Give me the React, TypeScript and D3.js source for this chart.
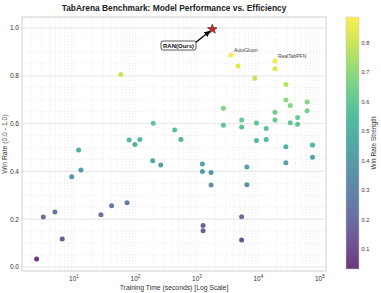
import React from "react";
import * as d3 from "d3";

// training time (s) and win rate of the baselines
const times = [
  2.47, 3.17, 4.9, 6.45, 9.2, 11.9, 13, 27.5, 41, 58, 73, 79, 98, 118, 191, 195, 258, 435, 550,
  1230, 1230, 1260, 1260, 1700, 1700, 2700, 2700, 3570, 4660, 5340, 5340, 5340, 5340, 6500, 6500,
  8700, 9300, 9300, 13400, 13400, 18600, 18600, 18600, 18600, 28000, 28000, 28000, 28000,
  33000, 33000, 43500, 43500, 62000, 62000, 76000, 76000,
];
const winRates = [
  0.033, 0.209, 0.23, 0.117, 0.378, 0.49, 0.406, 0.219, 0.256, 0.805, 0.269, 0.531, 0.513, 0.534, 0.445, 0.601, 0.427, 0.573, 0.534,
  0.431, 0.4, 0.174, 0.152, 0.395, 0.343, 0.664, 0.593, 0.887, 0.841, 0.615, 0.586, 0.21, 0.113, 0.418, 0.344,
  0.79, 0.602, 0.529, 0.58, 0.533, 0.862, 0.83, 0.647, 0.615, 0.764, 0.699, 0.503, 0.436,
  0.676, 0.604, 0.626, 0.597, 0.69, 0.654, 0.51, 0.459,
];
const labelled = [
  {name: "AutoGluon", t: 3570, v: 0.887},
  {name: "RealTabPFN", t: 18600, v: 0.862},
];
const ours = {name: "RAN(Ours)", t: 1780, v: 0.995};

const yTicks = [0, 0.2, 0.4, 0.6, 0.8, 1.0];
const xTicks = [1, 2, 3, 4, 5];
const cbTicks = [0.1, 0.2, 0.3, 0.4, 0.5, 0.6, 0.7, 0.8];

const W = 381, H = 293;
const L = 22, R = 326, T = 17, B = 271;
const font = "'Liberation Sans', Arial, sans-serif";

export default function App() {
  const x = d3.scaleLog().domain([Math.pow(10, 0.155), Math.pow(10, 5.1)]).range([L, R]);
  const y = d3.scaleLinear().domain([-0.0167, 1.046]).range([B, T]);
  const cMin = d3.min(winRates)!, cMax = d3.max(winRates)!;
  const color = d3.scaleSequential(d3.interpolateViridis).domain([cMin, cMax]);
  const cy = d3.scaleLinear().domain([cMin, cMax]).range([269, 17]);

  const minor: number[] = [];
  for (let e = 0; e <= 5; e++) {
    for (let k = 1; k < 10; k++) {
      const v = k * Math.pow(10, e);
      if (v >= x.domain()[0] && v <= x.domain()[1]) minor.push(v);
    }
  }
  const yMinor = d3.range(0, 1.05, 0.05);

  const star = d3.symbol().type(d3.symbolStar).size(28)()!;
  const gradStops = d3.range(0, 1.001, 0.1);

  const sx = x(ours.t), sy = y(ours.v);

  return (
    <svg width={W} height={H} style={{position: "absolute", left: 0, top: 0}} fontFamily={font}>
      <defs>
        <linearGradient id="cb" x1="0" y1="1" x2="0" y2="0">
          {gradStops.map(s => (
            <stop key={s} offset={s} stopColor={d3.interpolateViridis(s)} />
          ))}
        </linearGradient>
        <marker id="ah" viewBox="0 0 10 10" refX="9" refY="5" markerWidth="5" markerHeight="5" orient="auto">
          <path d="M0,0 L10,5 L0,10 z" fill="#000" />
        </marker>
      </defs>
      <rect width={W} height={H} fill="#fff" />
      <text x={174} y={11} textAnchor="middle" fontSize={8.4} fontWeight="bold" fill="#222">
        TabArena Benchmark: Model Performance vs. Efficiency
      </text>

      {/* grid */}
      <g stroke="#e6e6e6" strokeWidth={0.6} strokeDasharray="1.5,1.5">
        {minor.map((v, i) => (
          <line key={i} x1={x(v)} x2={x(v)} y1={T} y2={B} />
        ))}
        {yMinor.map((v, i) => (
          <line key={"y" + i} x1={L} x2={R} y1={y(v)} y2={y(v)} />
        ))}
      </g>
      <g stroke="#e3e3e3" strokeWidth={0.8}>
        {yTicks.map(v => (
          <line key={v} x1={L} x2={R} y1={y(v)} y2={y(v)} />
        ))}
      </g>
      <rect x={L} y={T} width={R - L} height={B - T} fill="none" stroke="#d0d0d0" strokeWidth={1} />

      {/* axes */}
      <g fontSize={6.5} fill="#333">
        {yTicks.map(v => (
          <text key={v} x={L - 3} y={y(v) + 2.3} textAnchor="end">{v.toFixed(1)}</text>
        ))}
        {xTicks.map(e => (
          <text key={e} x={x(Math.pow(10, e))} y={281} textAnchor="middle">
            10<tspan fontSize={4.5} dy={-3}>{e}</tspan>
          </text>
        ))}
      </g>
      <text x={174} y={290} textAnchor="middle" fontSize={6.8} fill="#333">
        Training Time (seconds) [Log Scale]
      </text>
      <text transform={`translate(7,${(T + B) / 2}) rotate(-90)`} textAnchor="middle" fontSize={6.8} fill="#333">
        Win Rate (0.0 - 1.0)
      </text>

      {/* points */}
      <g>
        {times.map((t, i) => (
          <circle key={i} cx={x(t)} cy={y(winRates[i])} r={2.5} fill={color(winRates[i])} fillOpacity={0.78} />
        ))}
      </g>
      {labelled.map(d => (
        <text key={d.name} x={x(d.t) + 3} y={y(d.v) - 3} fontSize={5} fill="#444">{d.name}</text>
      ))}

      {/* ours */}
      <line x1={195} y1={43} x2={sx - 2.5} y2={sy + 2} stroke="#000" strokeWidth={1.2} markerEnd="url(#ah)" />
      <path d={star} transform={`translate(${sx},${sy})`} fill="#d62728" stroke="#3a0000" strokeWidth={0.6} />
      <rect x={161} y={41} width={35} height={9} rx={2} fill="#fff" stroke="#333" strokeWidth={0.8} />
      <text x={178.5} y={48} textAnchor="middle" fontSize={6} fontWeight="bold" fill="#111">{ours.name}</text>

      {/* colorbar */}
      <rect x={346} y={17} width={13} height={252} fill="url(#cb)" fillOpacity={0.78} stroke="#ccc" strokeWidth={0.5} />
      <g fontSize={5.6} fill="#333">
        {cbTicks.map(v => (
          <text key={v} x={361.5} y={cy(v) + 2}>{v.toFixed(1)}</text>
        ))}
      </g>
      <text transform={`translate(376,${(17 + 269) / 2}) rotate(-90)`} textAnchor="middle" fontSize={6.5} fill="#333">
        Win Rate Strength
      </text>
    </svg>
  );
}
